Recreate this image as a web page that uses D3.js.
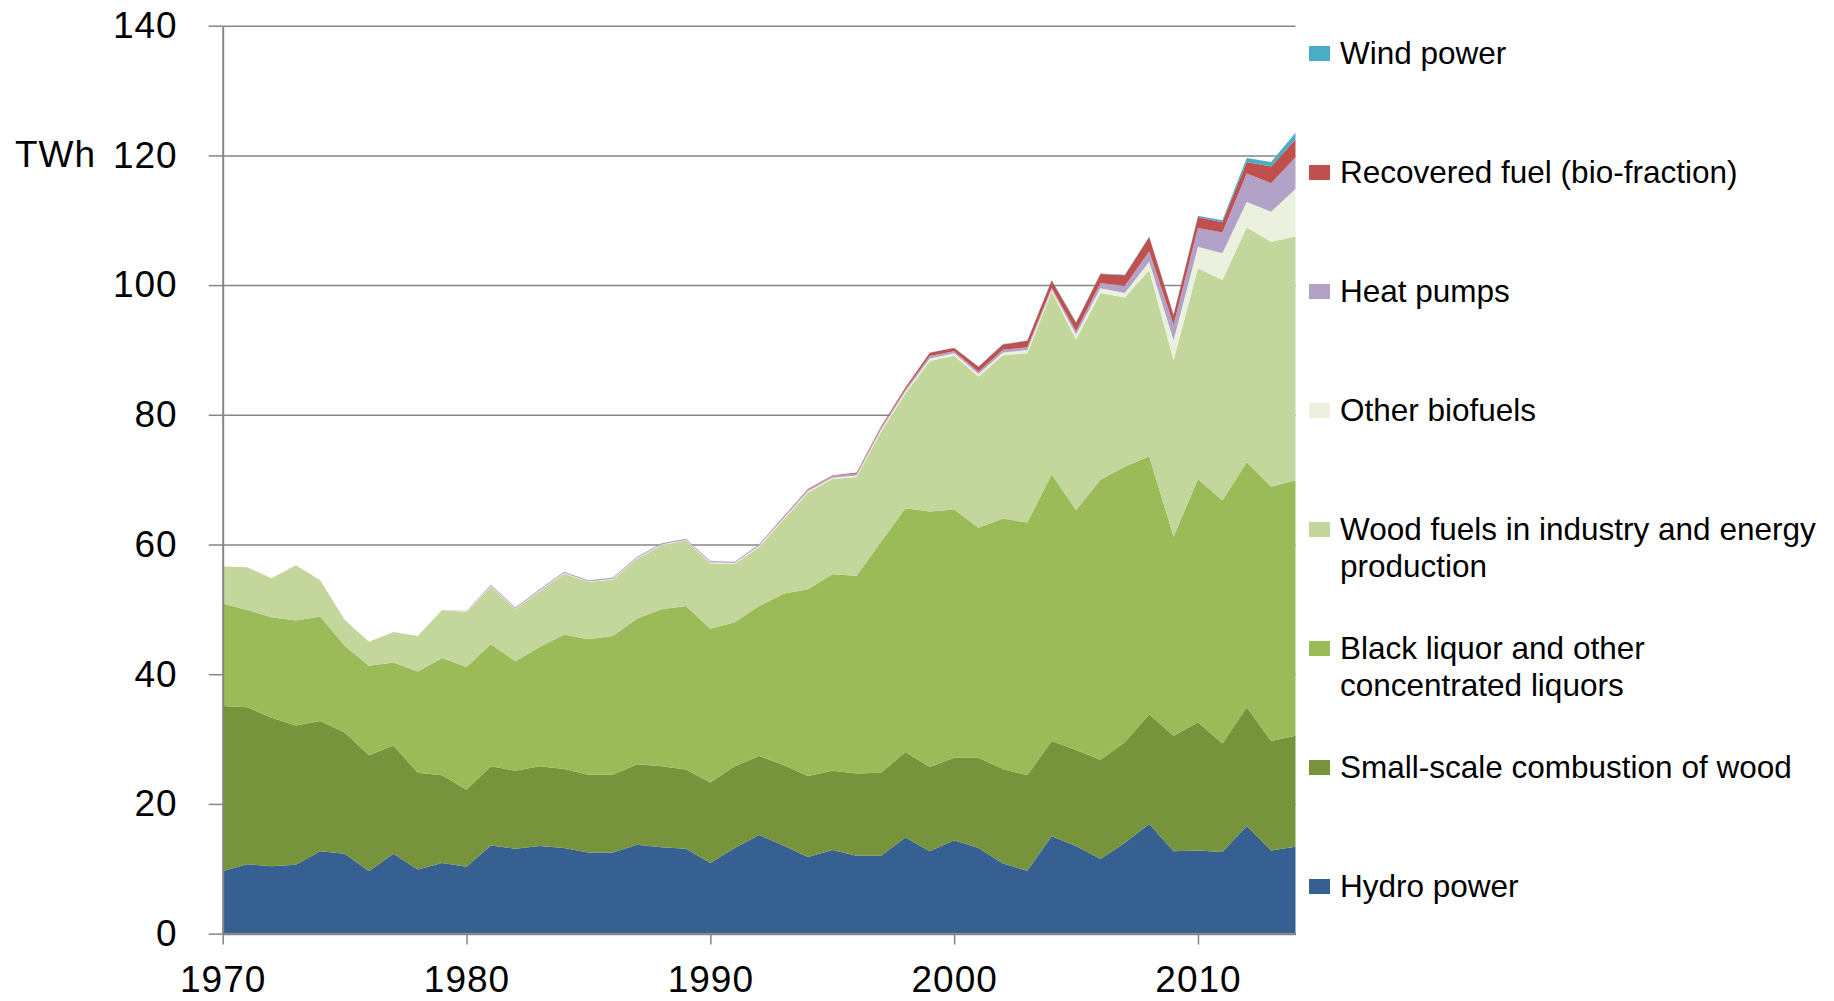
<!DOCTYPE html>
<html>
<head>
<meta charset="utf-8">
<script src="https://cdn.jsdelivr.net/npm/d3@7"></script>
<style>
  body { margin: 0; background: #fff; }
  svg text { font-family: "Liberation Sans", Arial, sans-serif; fill: #000; }
</style>
</head>
<body>
<svg id="svg1" width="1834" height="1001"></svg>
<script>
// data, TWh per year
var years = d3.range(1970, 2015);

var hydro = [9.6,10.7,10.4,10.6,12.7,12.3,9.6,12.3,9.9,10.9,
  10.3,13.6,13.1,13.5,13.2,12.5,12.5,13.7,13.3,13.1,
  10.9,13.2,15.2,13.6,11.8,12.9,12.0,12.0,14.8,12.7,
  14.4,13.2,10.8,9.7,15.0,13.5,11.5,14.0,16.9,12.7,
  12.8,12.6,16.6,12.8,13.4];

var smallScale = [25.5,24.2,22.9,21.5,20.1,18.7,17.9,16.7,14.9,13.5,
  11.9,12.2,12.0,12.3,12.2,12.0,12.0,12.4,12.5,12.2,
  12.4,12.6,12.2,12.4,12.5,12.2,12.7,12.8,13.2,13.0,
  12.7,13.9,14.6,14.7,14.7,14.8,15.3,15.5,16.9,17.8,
  19.8,16.7,18.3,16.9,17.1];

var blackLiquor = [15.8,15.0,15.5,16.2,16.1,13.4,13.8,12.8,15.6,18.1,
  18.9,18.8,16.9,18.4,20.7,20.9,21.4,22.5,24.2,25.2,
  23.7,22.2,23.1,26.4,28.8,30.3,30.5,35.6,37.6,39.4,
  38.3,35.5,38.6,39.0,41.1,37.0,43.2,42.5,39.8,30.7,
  37.5,37.5,37.8,39.2,39.4];

var woodFuels = [5.7,6.6,6.0,8.5,5.6,4.0,3.7,4.7,5.5,7.4,
  8.5,8.9,8.0,8.6,9.4,8.8,8.7,9.2,9.9,10.1,
  10.1,9.0,9.1,11.4,14.9,14.7,15.2,17.0,17.7,23.2,
  23.7,23.3,25.2,26.1,28.2,26.3,28.8,26.1,28.7,27.2,
  32.5,34.0,36.2,37.8,37.6];

var otherBiofuels = [0,0,0,0,0,0,0,0,0,0,
  0.1,0.1,0.1,0.1,0.1,0.1,0.1,0.1,0.1,0.1,
  0.15,0.15,0.2,0.2,0.2,0.2,0.25,0.3,0.3,0.4,
  0.4,0.4,0.4,0.5,0.3,0.8,0.7,0.7,1.3,3.1,
  3.3,4.1,3.9,4.6,7.3];

var heatPumps = [0,0,0,0,0,0,0,0,0,0,
  0.1,0.2,0.2,0.2,0.2,0.2,0.2,0.2,0.2,0.2,
  0.2,0.2,0.25,0.25,0.25,0.25,0.3,0.3,0.3,0.35,
  0.3,0.35,0.45,0.4,0.3,0.5,0.8,1.1,1.6,2.4,
  2.9,3.2,4.4,4.4,4.9];

var recoveredFuel = [0,0,0,0,0,0,0,0,0,0,
  0,0,0,0,0,0,0,0,0,0,
  0,0,0,0.05,0.1,0.1,0.15,0.2,0.3,0.5,
  0.5,0.75,0.8,1.0,1.1,1.3,1.4,1.6,2.2,1.5,
  1.7,1.6,1.8,2.6,2.8];

var windPower = [0,0,0,0,0,0,0,0,0,0,
  0,0,0,0,0,0,0,0,0,0,
  0,0,0,0,0,0,0,0,0,0.05,
  0.05,0.05,0.05,0.05,0.1,0.1,0.1,0.1,0.1,0.1,
  0.2,0.3,0.6,0.7,1.0];

var seriesNames = ["Hydro power", "Small-scale combustion of wood",
  "Black liquor and other concentrated liquors",
  "Wood fuels in industry and energy production",
  "Other biofuels", "Heat pumps", "Recovered fuel (bio-fraction)", "Wind power"];
var seriesValues = [hydro, smallScale, blackLiquor, woodFuels, otherBiofuels, heatPumps, recoveredFuel, windPower];
var seriesColors = ["#376092", "#77933c", "#9bbb59", "#c3d69b", "#ebf1de", "#b3a2c7", "#c0504d", "#4bacc6"];

// legend text, split into lines, listed top to bottom
var legendLines = [
  ["Wind power"],
  ["Recovered fuel (bio-fraction)"],
  ["Heat pumps"],
  ["Other biofuels"],
  ["Wood fuels in industry and energy", "production"],
  ["Black liquor and other", "concentrated liquors"],
  ["Small-scale combustion of wood"],
  ["Hydro power"]
];

var yTicks = [0, 20, 40, 60, 80, 100, 120, 140];
var xTicks = [1970, 1980, 1990, 2000, 2010];

// table for the stack
var table = years.map(function(y, i) {
  var row = { year: y };
  seriesNames.forEach(function(n, k) { row[n] = seriesValues[k][i]; });
  return row;
});

var svg = d3.select('#svg1');

var scaleX = d3.scaleLinear().domain([1970, 2014]).range([222.7, 1295.5]);
var scaleY = d3.scaleLinear().domain([0, 140]).range([933.6, 25.7]);

var gridColor = '#868686';

// gridlines
svg.append('g')
  .attr('class', 'grid')
  .attr('transform', 'translate(' + scaleX(1970) + ',0)')
  .call(d3.axisLeft(scaleY).tickValues(yTicks.slice(1)).tickSize(-(scaleX(2014) - scaleX(1970))).tickFormat(''))
  .call(function(g) {
    g.select('.domain').remove();
    g.selectAll('line').attr('stroke', gridColor).attr('stroke-width', 1.5);
  });

// stacked areas
var stack = d3.stack().keys(seriesNames);
var layers = stack(table);

var area = d3.area()
  .x(function(d) { return scaleX(d.data.year); })
  .y0(function(d) { return scaleY(d[0]); })
  .y1(function(d) { return scaleY(d[1]); });

svg.append('g').selectAll('path')
  .data(layers)
  .enter().append('path')
  .attr('d', area)
  .attr('fill', function(d, i) { return seriesColors[i]; });

// y axis
svg.append('g')
  .attr('class', 'y-axis')
  .attr('transform', 'translate(' + scaleX(1970) + ',0)')
  .call(d3.axisLeft(scaleY).tickValues(yTicks).tickSize(14).tickPadding(31).tickSizeOuter(0))
  .call(function(g) {
    g.select('.domain').attr('stroke', gridColor).attr('stroke-width', 2);
    g.selectAll('line').attr('stroke', gridColor).attr('stroke-width', 1.5);
    g.selectAll('text').attr('font-size', 37).attr('letter-spacing', 1)
      .attr('font-family', '"Liberation Sans", Arial, sans-serif').attr('fill', '#000');
  });

// x axis
svg.append('g')
  .attr('class', 'x-axis')
  .attr('transform', 'translate(0,' + scaleY(0) + ')')
  .call(d3.axisBottom(scaleX).tickValues(xTicks).tickFormat(d3.format('d')).tickSize(11).tickPadding(21).tickSizeOuter(0))
  .call(function(g) {
    g.select('.domain').attr('stroke', gridColor).attr('stroke-width', 2.5);
    g.selectAll('line').attr('stroke', gridColor).attr('stroke-width', 1.5);
    g.selectAll('text').attr('font-size', 37).attr('letter-spacing', 1)
      .attr('font-family', '"Liberation Sans", Arial, sans-serif').attr('fill', '#000');
  });

// unit label
svg.append('text')
  .attr('x', 15)
  .attr('y', scaleY(120))
  .attr('dy', '0.32em')
  .attr('font-size', 37)
  .attr('letter-spacing', 1)
  .text('TWh');

// legend
var legendColors = seriesColors.slice().reverse();
var legend = svg.append('g').attr('class', 'legend');
legendLines.forEach(function(lines, i) {
  var base = 64 + i * 119;
  legend.append('rect')
    .attr('x', 1309).attr('y', base - 18)
    .attr('width', 21).attr('height', 15)
    .attr('fill', legendColors[i]);
  var t = legend.append('text')
    .attr('x', 1340).attr('y', base)
    .attr('font-size', 31.5);
  lines.forEach(function(l, j) {
    t.append('tspan').attr('x', 1340).attr('dy', j === 0 ? 0 : 36.5).text(l);
  });
});
</script>
</body>
</html>
